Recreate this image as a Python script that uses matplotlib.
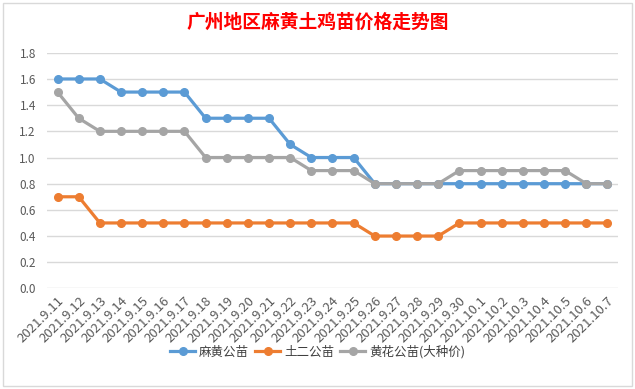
import matplotlib.pyplot as plt
from matplotlib.patches import Rectangle

plt.rcParams['font.family'] = ['Noto Sans CJK SC', 'DejaVu Sans']

dates = ['2021.9.11', '2021.9.12', '2021.9.13', '2021.9.14', '2021.9.15', '2021.9.16',
         '2021.9.17', '2021.9.18', '2021.9.19', '2021.9.20', '2021.9.21', '2021.9.22',
         '2021.9.23', '2021.9.24', '2021.9.25', '2021.9.26', '2021.9.27', '2021.9.28',
         '2021.9.29', '2021.9.30', '2021.10.1', '2021.10.2', '2021.10.3', '2021.10.4',
         '2021.10.5', '2021.10.6', '2021.10.7']

mahuang = [1.6, 1.6, 1.6, 1.5, 1.5, 1.5, 1.5, 1.3, 1.3, 1.3, 1.3, 1.1, 1.0, 1.0, 1.0,
           0.8, 0.8, 0.8, 0.8, 0.8, 0.8, 0.8, 0.8, 0.8, 0.8, 0.8, 0.8]
tuer = [0.7, 0.7, 0.5, 0.5, 0.5, 0.5, 0.5, 0.5, 0.5, 0.5, 0.5, 0.5, 0.5, 0.5, 0.5,
        0.4, 0.4, 0.4, 0.4, 0.5, 0.5, 0.5, 0.5, 0.5, 0.5, 0.5, 0.5]
huanghua = [1.5, 1.3, 1.2, 1.2, 1.2, 1.2, 1.2, 1.0, 1.0, 1.0, 1.0, 1.0, 0.9, 0.9, 0.9,
            0.8, 0.8, 0.8, 0.8, 0.9, 0.9, 0.9, 0.9, 0.9, 0.9, 0.8, 0.8]

series_names = ['麻黄公苗', '土二公苗', '黄花公苗(大种价)']
colors = ['#5B9BD5', '#ED7D31', '#A5A5A5']

fig = plt.figure(figsize=(6.35, 3.89), dpi=100)
fig.patches.append(Rectangle((3 / 635, 3 / 389), 629 / 635, 383 / 389,
                             transform=fig.transFigure, fill=False,
                             edgecolor='#d9d9d9', linewidth=1))

ax = fig.add_axes([47 / 635, 1 - 288.4 / 389, 571 / 635, 235.6 / 389])
x = list(range(len(dates)))
for vals, name, c in zip([mahuang, tuer, huanghua], series_names, colors):
    ax.plot(x, vals, color=c, linewidth=2.3, marker='o', markersize=5.5, label=name)

ax.set_xlim(-0.5, len(dates) - 0.5)
ax.set_ylim(0, 1.8)
ax.set_yticks([i * 0.2 for i in range(10)])
ax.set_yticklabels(['%.1f' % (i * 0.2) for i in range(10)])
ax.set_xticks(x)
ax.set_xticklabels(dates, rotation=45, ha='right', rotation_mode='anchor')
ax.grid(axis='y', color='#d9d9d9', linewidth=1)
ax.set_axisbelow(True)
for s in ax.spines.values():
    s.set_visible(False)
ax.tick_params(axis='both', length=0, labelcolor='#595959')
ax.tick_params(axis='y', pad=8, labelsize=8.5)
ax.tick_params(axis='x', pad=4, labelsize=9.5)

fig.text(0.5, 1 - 22 / 389, '广州地区麻黄土鸡苗价格走势图', ha='center', va='center',
         color='#ff0000', fontsize=13.5, fontweight='bold')

fig.legend(loc='center', bbox_to_anchor=(0.5, 1 - 352 / 389), ncol=3, frameon=False,
           fontsize=9, handlelength=2.0, columnspacing=0.5, handletextpad=0.3,
           labelcolor='#404040')

fig.savefig('out.png', dpi=100, facecolor='white')
